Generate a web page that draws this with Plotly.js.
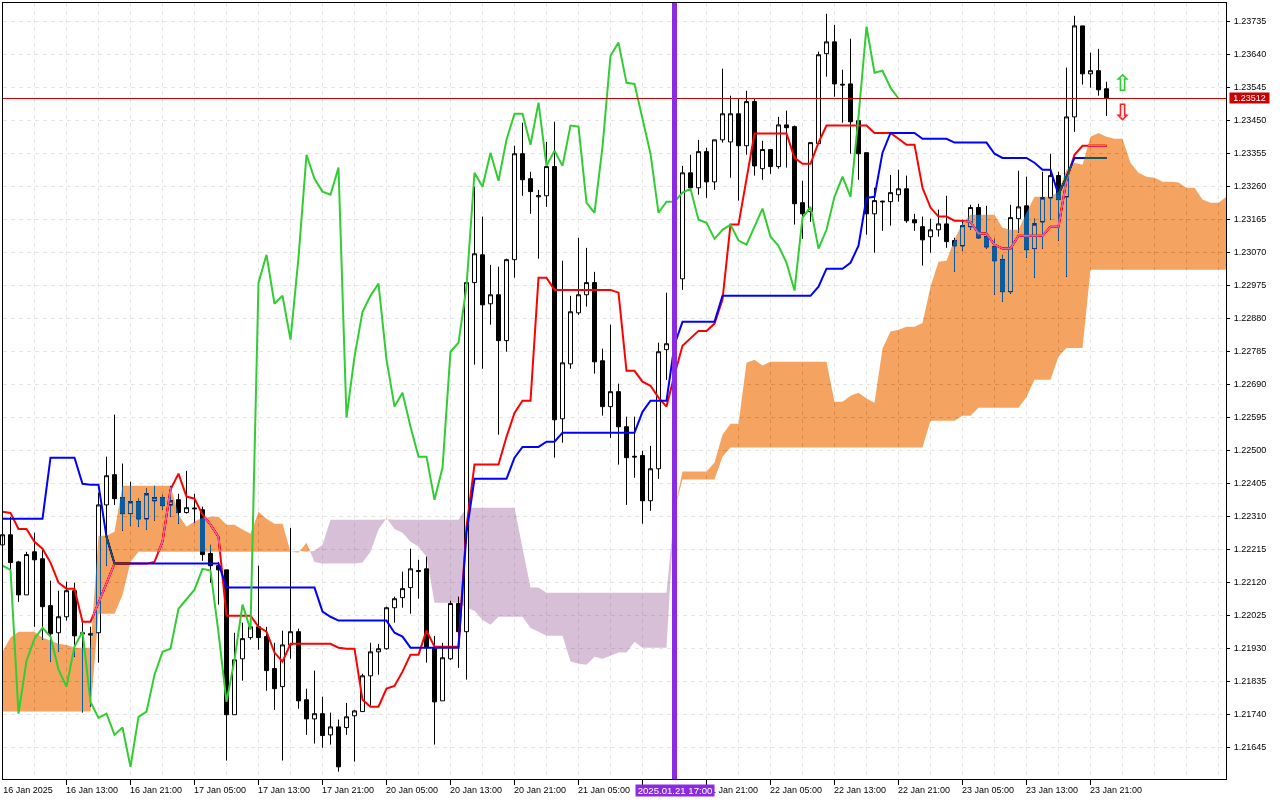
<!DOCTYPE html>
<html>
<head>
<meta charset="utf-8">
<script src="https://cdn.plot.ly/plotly-3.0.1.min.js"></script>
<style>html,body{margin:0;padding:0;background:#fff}</style>
</head>
<body>
<div id="chart" style="width:1280px;height:800px"></div>
<script>
// All price series are in points (0.00001) above BASE_PRICE, bar 0 = 16 Jan 2025 05:00, H1 bars
const BASE_PRICE = 1.2;
const openPts = [
2227,2256,2178,2083,2207,2187,2052,1974,2020,2095,
1974,1971,1974,2342,2429,2363,2317,2351,2302,2354,
2363,2342,2357,2320,2333,2328,2202,2167,2155,1738,
1899,1960,1991,1963,1871,1819,1939,1977,1781,1726,
1741,1680,1703,1701,1735,1747,1850,1919,1928,2046,
2075,2104,2150,2158,1931,1778,1899,2058,1977,2982,
3062,2921,2947,2815,3048,3353,3281,3229,3232,3316,
2590,2748,2895,2947,2982,2757,2625,2668,2567,2482,
2484,2354,2446,2789,2806,2993,3298,3255,3359,3272,
3393,3387,3468,3376,3503,3310,3365,3316,3436,3431,
3212,3186,3382,3641,3675,3553,3554,3448,3356,3180,
3214,3215,3235,3252,3163,3143,3114,3134,3151,3103,
3088,3143,3198,3114,3085,3048,2956,3166,3203,3080,
3157,3226,3290,3229,3459,3721,3583,3592,3540];
const highPts = [
2262,2308,2181,2207,2262,2216,2124,2095,2121,2118,
2006,1991,2377,2481,2602,2461,2409,2360,2389,2397,
2371,2397,2374,2440,2374,2337,2227,2178,2155,1974,
2003,2032,2167,1991,1945,1980,2276,1986,1813,1865,
1790,1744,1724,1772,1752,1856,1945,1942,2049,2078,
2150,2216,2184,2193,1965,1945,2066,2078,2985,3258,
3172,3033,3028,3051,3376,3442,3301,3249,3387,3445,
3045,2944,3111,3082,3013,2792,2861,2691,2596,2596,
2498,2512,2809,2953,2832,3318,3350,3393,3370,3393,
3598,3520,3511,3534,3511,3390,3365,3459,3477,3434,
3275,3385,3647,3756,3724,3595,3684,3448,3356,3255,
3218,3292,3307,3290,3180,3172,3166,3192,3232,3111,
3163,3206,3209,3203,3108,3062,3206,3304,3287,3166,
3301,3353,3301,3601,3750,3721,3644,3655,3560];
const lowPts = [
2222,2147,2063,2083,1991,1954,1891,1919,2009,1905,
1744,1761,1888,2167,2342,2268,2282,2279,2271,2297,
2328,2308,2288,2317,2291,2181,2118,2055,1606,1738,
1836,1954,1925,1807,1752,1606,1899,1755,1680,1655,
1643,1652,1574,1680,1603,1747,1764,1853,1925,2003,
2046,2029,2072,1888,1652,1778,1896,1873,1839,2746,
2734,2861,2544,2783,2996,3232,3180,3051,3200,2478,
2521,2734,2889,2913,2720,2599,2535,2458,2342,2420,
2288,2325,2417,2702,2789,2961,3246,3235,3226,3249,
3385,3284,3218,3350,3290,3278,3295,3310,3313,3149,
3108,3157,3382,3575,3517,3442,3353,3278,3120,3068,
3131,3146,3215,3154,3131,3031,3068,3114,3082,3013,
3074,3134,3108,3080,2947,2927,2950,3126,3054,2996,
3080,3163,3103,2999,3416,3552,3543,3520,3462];
const closePts = [
2256,2176,2083,2199,2184,2049,1971,2020,2095,1965,
1971,1968,2342,2426,2360,2317,2351,2302,2374,2363,
2340,2354,2320,2334,2331,2199,2167,2155,1738,1896,
1957,1991,1960,1865,1813,1939,1977,1778,1726,1741,
1678,1703,1588,1732,1749,1850,1919,1928,2046,2072,
2101,2158,2153,1931,1775,1902,2058,1977,2982,3065,
2918,2947,2815,3048,3353,3278,3244,3232,3316,2587,
2751,2898,2947,2982,2754,2625,2668,2567,2478,2480,
2354,2446,2783,2806,2817,3298,3255,3359,3272,3393,
3468,3468,3376,3503,3318,3365,3316,3436,3428,3209,
3180,3385,3638,3675,3554,3551,3445,3353,3180,3218,
3216,3241,3252,3160,3154,3105,3134,3151,3100,3088,
3146,3198,3111,3085,3045,2956,3169,3200,3077,3151,
3226,3290,3221,3459,3721,3583,3592,3537,3512];
const tenkanPts = [
2322,2319,2273,2273,2236,2216,2176,2118,2101,2101,2006,2006,2060,2118,2173,
2173,2173,2173,2173,2178,2236,2386,2432,2366,2360,2314,2285,2250,
2023,2023,2023,2023,1991,1977,1917,1891,1942,1942,1942,1942,1942,1942,
1931,1928,1928,1781,1761,1761,1813,1821,1862,1911,1911,1980,1934,1934,1934,1934,
2279,2458,2458,2458,2458,2538,2607,2642,2642,2996,2996,
2961,2961,2961,2961,2961,2961,2961,2961,2953,2728,2728,2697,2685,2651,2625,2717,
2800,2823,2843,2843,2864,2933,3149,3149,3278,3411,3411,3411,3411,3411,
3341,3324,3324,3385,3434,3434,3434,3434,3434,3434,3413,3413,3413,3396,3379,3379,
3255,3198,3172,3172,3160,3160,3157,3123,3123,3091,3080,3080,3117,3117,3117,3117,
3143,3143,3278,3350,3376,3376,3376,3376];
const kijunPts = [
2302,2302,2302,2302,2302,2302,2478,2478,2478,2478,2403,2400,2400,2250,
2173,2173,2173,2173,2173,2173,2173,2173,2173,2173,2173,2173,2173,2173,
2104,2104,2104,2104,2104,2104,2104,2104,2104,2104,2104,2104,
2035,2020,2009,2009,2009,2009,2009,2009,2009,1974,1963,
1931,1931,1931,1931,1931,1931,1931,2262,2417,2417,2417,2417,2417,2478,
2509,2509,2509,2524,2524,2550,2550,2550,2550,2550,2550,2550,2550,2550,2550,
2610,2642,2642,2642,2803,2869,2869,2869,2869,2869,
2944,2944,2944,2944,2944,2944,2944,2944,2944,2944,2944,2944,
2970,3022,3022,3022,3039,3088,3226,3229,3356,3413,3413,3413,3413,
3396,3396,3396,3396,3385,3385,3385,3385,3385,3353,3341,3341,3341,3341,
3327,3307,3307,3235,3287,3341,3341,3341,3341,3341];
const chikouPts = [
2167,2155,1741,1893,1957,1988,1963,1868,1819,1934,1977,1775,1729,1741,1680,1701,
1588,1732,1747,1853,1919,1928,2043,2072,2098,2158,2153,1974,1775,1896,2055,1983,
2982,3062,2921,2944,2818,3054,3350,3281,3244,3235,3313,2593,2769,2898,2944,2979,
2760,2625,2665,2567,2481,2481,2357,2449,2783,2809,2970,
3298,3258,3356,3275,3393,3468,3468,3379,3500,3318,3362,3318,3434,3431,3212,3183,
3373,3635,3673,3557,3554,3457,3353,3183,3215,3215,
3241,3252,3163,3154,3108,3134,3149,3103,3091,3143,3195,3114,3088,3039,2959,3169,
3200,3080,3134,3229,3287,3229,3459,3719,3586,3592,3543,3512];
const spanAPts = [
1919,1960,1977,1977,1977,1960,1951,1942,1939,1931,1931,1931,2253,2253,2265,
2397,2397,2397,2397,2397,2397,2397,2314,2279,2294,2305,2308,2308,2285,2285,
2271,2259,2322,2302,2288,2288,2207,2204,2233,2178,2173,2173,2173,2173,2173,
2176,2207,2271,2304,2273,2262,2236,2222,2193,2060,2060,2060,2060,2046,2037,
2011,1997,2020,2020,2020,2020,1988,1977,1965,1965,1965,1891,1885,1882,1905,
1899,1908,1917,1917,1948,1931,1931,1931,1931,2328,2438,2438,2438,2438,2464,
2544,2576,2576,2751,2760,2743,2754,2754,2754,2754,2754,2754,2754,2754,2639,
2639,2656,2665,2648,2636,2792,2841,2846,2855,2855,2866,2970,3042,3045,3105,
3154,3177,3177,3177,3177,3140,3134,3134,3183,3229,3229,3229,3244,3307,3327,
3321,3402,3413,3402,3396,3396,3327,3298,3287,3284,3272,3272,3270,3255,3255,
3221,3212,3212,3229];
const spanBPts = [
1747,1747,1747,1747,1747,1747,1747,1747,1747,1747,1747,1747,2029,2029,2029,
2083,2178,2207,2207,2207,2207,2207,2207,2207,2207,2207,2207,2207,2207,2207,
2207,2207,2207,2207,2207,2207,2207,2210,2207,2210,2227,2299,2299,2299,2299,
2299,2299,2299,2301,2299,2299,2299,2299,2299,2299,2299,2299,2299,2334,2334,
2334,2334,2334,2334,2334,2219,2104,2104,2089,2089,2089,2089,2089,2089,2089,
2089,2089,2089,2089,2089,2089,2089,2089,2089,2328,2415,2415,2415,2415,2415,
2481,2507,2507,2507,2507,2507,2507,2507,2507,2507,2507,2507,2507,2507,2507,
2507,2507,2507,2507,2507,2507,2507,2507,2507,2507,2507,2584,2584,2584,2584,
2599,2599,2622,2622,2622,2622,2622,2622,2653,2702,2702,2702,2769,2794,2794,
2794,3019,3019,3019,3019,3019,3019,3019,3019,3019,3019,3019,3019,3019,3019,
3019,3019,3019,3019];
const tickBars = [0,8,16,24,32,40,48,56,64,72,80,88,96,104,112,120,128,136];
const axisLabels = ["16 Jan 2025","16 Jan 13:00","16 Jan 21:00","17 Jan 05:00","17 Jan 13:00","17 Jan 21:00",
"20 Jan 05:00","20 Jan 13:00","20 Jan 21:00","21 Jan 05:00","21 Jan 21:00",
"22 Jan 05:00","22 Jan 13:00","22 Jan 21:00","23 Jan 05:00","23 Jan 13:00","23 Jan 21:00"];
const axisLabelBars = [0,8,16,24,32,40,48,56,64,72,88,96,104,112,120,128,136];
const lastPrice = 1.23512;
const markerBar = 84;
const markerLabel = "2025.01.21 17:00";
const arrowBars = [140];
const arrowUpPts = [3551];
const arrowDownPts = [3468];

const toPrice = a => a.map(p => +(BASE_PRICE + p / 1e5).toFixed(5));
const barsOf = a => a.map((_, i) => i);

// Build cloud polygons between span A and span B, one colour per side of the crossings
function cloudPolygons(A, B) {
  const pts = [];
  for (let i = 0; i < A.length; i++) {
    pts.push([i, A[i], B[i]]);
    if (i + 1 < A.length) {
      const d0 = A[i] - B[i], d1 = A[i + 1] - B[i + 1];
      if (d0 * d1 < 0) {
        const t = d0 / (d0 - d1), c = A[i] + t * (A[i + 1] - A[i]);
        pts.push([i + t, c, c]);
      }
    }
  }
  const out = {up: {x: [], y: []}, down: {x: [], y: []}};
  let run = [];
  const flush = () => {
    if (run.length > 1) {
      const mid = run.reduce((s, p) => s + p[1] - p[2], 0);
      const t = mid >= 0 ? out.up : out.down;
      run.forEach(p => { t.x.push(p[0]); t.y.push(p[1]); });
      run.slice().reverse().forEach(p => { t.x.push(p[0]); t.y.push(p[2]); });
      t.x.push(null); t.y.push(null);
    }
  };
  pts.forEach(p => {
    run.push(p);
    if (p[1] === p[2] && run.length > 1) { flush(); run = [p]; }
  });
  flush();
  return out;
}
const cloud = cloudPolygons(toPrice(spanAPts), toPrice(spanBPts));

const ORANGE_XOR = "rgb(11,91,159)";   // shows as sandy brown on white (difference blend)
const THISTLE = "rgb(216,191,216)";
const FONT = "Liberation Sans";
const Y_RANGE = [1.2155295, 1.237869];
const X_RANGE = [0.0625, 152.9375];

const traces = [
  {type: "scatter", mode: "none", x: cloud.down.x, y: cloud.down.y, fill: "toself", fillcolor: THISTLE, xaxis: "x", yaxis: "y", hoverinfo: "skip"},
  {type: "candlestick", x: barsOf(openPts), open: toPrice(openPts), high: toPrice(highPts), low: toPrice(lowPts), close: toPrice(closePts),
   xaxis: "x2", yaxis: "y2", whiskerwidth: 0, hoverinfo: "skip",
   increasing: {line: {color: "#000", width: 1}, fillcolor: "#fff"},
   decreasing: {line: {color: "#000", width: 1}, fillcolor: "#000"}},
  {type: "scatter", mode: "lines", x: barsOf(tenkanPts), y: toPrice(tenkanPts), line: {color: "#ff0000", width: 2}, xaxis: "x2", yaxis: "y2", hoverinfo: "skip"},
  {type: "scatter", mode: "lines", x: barsOf(kijunPts), y: toPrice(kijunPts), line: {color: "#0000ff", width: 2}, xaxis: "x2", yaxis: "y2", hoverinfo: "skip"},
  {type: "scatter", mode: "none", x: cloud.up.x, y: cloud.up.y, fill: "toself", fillcolor: ORANGE_XOR, xaxis: "x2", yaxis: "y2", hoverinfo: "skip"},
  {type: "scatter", mode: "lines", x: barsOf(chikouPts), y: toPrice(chikouPts), line: {color: "#32cd32", width: 2}, xaxis: "x2", yaxis: "y2", hoverinfo: "skip"},
  {type: "scatter", mode: "text", x: arrowBars, y: toPrice(arrowUpPts), text: ["\u21E7"], textposition: "middle center",
   textfont: {family: "DejaVu Sans", size: 23, weight: 700, color: "#32cd32"}, xaxis: "x2", yaxis: "y2", hoverinfo: "skip"},
  {type: "scatter", mode: "text", x: arrowBars, y: toPrice(arrowDownPts), text: ["\u21E9"], textposition: "middle center",
   textfont: {family: "DejaVu Sans", size: 23, weight: 700, color: "#ff2020"}, xaxis: "x2", yaxis: "y2", hoverinfo: "skip"}
];

const tickFont = {family: FONT, size: 9, color: "#000"};
const layout = {
  width: 1280, height: 800, autosize: false, showlegend: false, hovermode: false,
  paper_bgcolor: "#fff", plot_bgcolor: "#fff", boxgap: 0.5, boxgroupgap: 0,
  margin: {l: 3, r: 54, t: 3, b: 21, pad: 0},
  xaxis: {
    range: X_RANGE, tickmode: "array", tickvals: tickBars, ticks: "outside", ticklen: 5, tickcolor: "#000", showticklabels: false,
    showgrid: true, gridcolor: "#e6e6e6", griddash: "4px,4px", gridwidth: 1,
    minor: {tick0: 0, dtick: 4, showgrid: true, gridcolor: "#e6e6e6", griddash: "4px,4px", gridwidth: 1, ticks: ""},
    showline: true, linecolor: "#000", linewidth: 1, mirror: true, zeroline: false, rangeslider: {visible: false}
  },
  yaxis: {
    range: Y_RANGE, side: "right", tick0: 1.21645, dtick: 0.00095, tickformat: ".5f", ticks: "outside", ticklen: 3, tickcolor: "#000",
    ticklabelstandoff: 2,
    tickfont: tickFont, showgrid: true, gridcolor: "#e6e6e6", griddash: "4px,4px", gridwidth: 1,
    showline: true, linecolor: "#000", linewidth: 1, mirror: true, zeroline: false
  },
  xaxis2: {
    range: X_RANGE, overlaying: "x", anchor: "y2", side: "bottom", tickmode: "array",
    tickvals: axisLabelBars.map(b => b + 3.2), ticktext: axisLabels, ticks: "outside", ticklen: 2, tickcolor: "rgba(0,0,0,0)", tickangle: 0, tickfont: tickFont,
    showgrid: false, zeroline: false, showline: false, rangeslider: {visible: false}
  },
  yaxis2: {range: Y_RANGE, overlaying: "y", side: "right", visible: false, showgrid: false, zeroline: false},
  shapes: [
    {type: "line", xref: "paper", x0: 0, x1: 1, yref: "y", y0: lastPrice, y1: lastPrice, line: {color: "#d00000", width: 1}, layer: "above"},
    {type: "line", xref: "x", x0: markerBar, x1: markerBar, yref: "paper", y0: 0, y1: 1, line: {color: "#8a2be2", width: 5}, layer: "above"}
  ],
  annotations: [
    {xref: "paper", x: 1, xanchor: "left", xshift: 3, yref: "y", y: lastPrice, yanchor: "middle", text: lastPrice.toFixed(5), showarrow: false,
     bgcolor: "#c80000", font: {family: FONT, size: 9, color: "#fff"}, borderpad: 0, width: 39, height: 10},
    {xref: "x", x: markerBar, xanchor: "center", yref: "paper", y: 0, yanchor: "top", yshift: -5, text: markerLabel, showarrow: false,
     bgcolor: "#8a2be2", font: {family: FONT, size: 9.6, color: "#fff"}, borderpad: 0, width: 78, height: 11}
  ]
};

Plotly.newPlot("chart", traces, layout, {staticPlot: true, displayModeBar: false}).then(gd => {
  gd.querySelectorAll("path.js-fill").forEach(p => {
    const f = p.style.fill.replace(/\s/g, "");
    let mode = null;
    if (f === "rgb(11,91,159)") mode = "difference";
    if (f === "rgb(216,191,216)") mode = "multiply";
    if (!mode) return;
    p.style.mixBlendMode = mode;
    // clipping groups would isolate the blend from what lies beneath
    for (let n = p.parentNode; n && n.tagName !== "svg"; n = n.parentNode) {
      if (n.getAttribute && n.getAttribute("clip-path")) n.removeAttribute("clip-path");
    }
  });
});
</script>
</body>
</html>
